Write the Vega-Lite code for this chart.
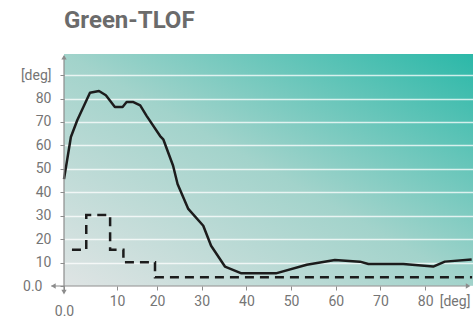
{
  "$schema": "https://vega.github.io/schema/vega-lite/v6.json",
  "width": 409,
  "height": 232,
  "autosize": {"type": "none"},
  "padding": {"left": 64, "top": 54, "right": 2, "bottom": 33},
  "background": "white",
  "title": {"text": "Green-TLOF", "anchor": "start", "frame": "group", "font": "Roboto", "fontSize": 24, "fontWeight": "bold", "color": "#6b6b6b", "offset": 21},
  "resolve": {"axis": {"x": "independent", "y": "independent"}, "scale": {"x": "shared", "y": "shared"}},
  "config": {
    "view": {
      "stroke": null,
      "fill": {"gradient": "linear", "x1": 0, "y1": 1, "x2": 1, "y2": 0, "stops": [
        {"offset": 0, "color": "#dfe4e4"},
        {"offset": 0.5, "color": "#a2d3cb"},
        {"offset": 1, "color": "#2bb8a8"}
      ]}
    },
    "axis": {
      "title": null, "domain": false,
      "tickColor": "#8c8c8c", "tickSize": 4, "tickWidth": 1,
      "labelFont": "Roboto", "labelFontSize": 14, "labelColor": "#757575",
      "labelFlush": false, "labelOverlap": false, "labelBound": false
    }
  },
  "datasets": {
    "solid": [
      {"x": 0, "y": 45.6}, {"x": 1.3, "y": 63.6}, {"x": 2.5, "y": 70.7}, {"x": 4.9, "y": 82.5},
      {"x": 6.6, "y": 83.2}, {"x": 7.9, "y": 81.4}, {"x": 9.6, "y": 76.4}, {"x": 11.4, "y": 76.4},
      {"x": 12.4, "y": 78.5}, {"x": 14.1, "y": 78.5}, {"x": 15.8, "y": 77.1}, {"x": 17.4, "y": 72.6},
      {"x": 20.7, "y": 64}, {"x": 21.4, "y": 62.6}, {"x": 23.6, "y": 51.3}, {"x": 24.6, "y": 43.5},
      {"x": 27, "y": 32.9}, {"x": 30.35, "y": 25.7}, {"x": 32.1, "y": 17.2}, {"x": 35.2, "y": 8.3},
      {"x": 38.9, "y": 5.4}, {"x": 46.6, "y": 5.4}, {"x": 53.5, "y": 9.1}, {"x": 59.8, "y": 11.1},
      {"x": 65.4, "y": 10.4}, {"x": 67.3, "y": 9.4}, {"x": 75.1, "y": 9.4}, {"x": 81.8, "y": 8.3},
      {"x": 84.4, "y": 10.4}, {"x": 90.4, "y": 11.3}
    ],
    "dashed": [
      {"x": 1.5, "y": 15.5}, {"x": 4.2, "y": 30.3}, {"x": 8.7, "y": 15.5},
      {"x": 11.6, "y": 10.1}, {"x": 19.5, "y": 3.7}, {"x": 90.5, "y": 3.7}
    ]
  },
  "layer": [
    {
      "data": {"name": "solid"},
      "mark": {"type": "line", "color": "#1c1c1c", "strokeWidth": 2.5, "strokeJoin": "round"},
      "encoding": {
        "x": {
          "field": "x", "type": "quantitative",
          "scale": {"type": "linear", "domain": [0, 10, 20, 90.7], "range": [0, 53, 93, 409], "nice": false, "zero": false},
          "axis": {
            "values": [0, 10, 20, 30, 40, 50, 60, 70, 80, 90],
            "labelExpr": "datum.value==0?'0.0':datum.value==90?'[deg]':datum.label",
            "grid": false,
            "tickOpacity": {"condition": {"test": "datum.value==90", "value": 0}, "value": 1},
            "labelAlign": {"condition": {"test": "datum.value==90", "value": "right"}, "value": "center"},
            "labelPadding": {"condition": {"test": "datum.value==0", "value": 14}, "value": 4}
          }
        },
        "y": {
          "field": "y", "type": "quantitative",
          "scale": {"domain": [0, 99], "nice": false, "zero": false},
          "axis": {
            "values": [0, 10, 20, 30, 40, 50, 60, 70, 80, 90],
            "labelExpr": "datum.value==0?'0.0':datum.value==90?'[deg]':datum.label",
            "grid": true, "gridColor": "#ffffff", "gridOpacity": 0.75, "gridWidth": 1.5,
            "labelPadding": {"condition": {"test": "datum.value==0", "value": 18}, "value": 9}
          }
        }
      }
    },
    {
      "data": {"name": "dashed"},
      "mark": {"type": "line", "color": "#1c1c1c", "strokeWidth": 2.5, "interpolate": "step-after", "strokeDash": [9, 6]},
      "encoding": {
        "x": {"field": "x", "type": "quantitative", "axis": null},
        "y": {"field": "y", "type": "quantitative", "axis": null}
      }
    },
    {
      "data": {"values": [{"k": 1}]},
      "mark": {"type": "rule", "color": "#8c8c8c", "strokeWidth": 1.2},
      "encoding": {
        "x": {"datum": -2.4, "axis": null},
        "x2": {"datum": 89.5},
        "y": {"datum": 0, "axis": null}
      }
    },
    {
      "data": {"values": [{"k": 1}]},
      "mark": {"type": "rule", "color": "#8c8c8c", "strokeWidth": 1.2},
      "encoding": {
        "x": {"datum": 0, "axis": null},
        "y": {"datum": -3, "axis": null},
        "y2": {"datum": 98}
      }
    },
    {
      "data": {"values": [{"k": 1}]},
      "mark": {"type": "point", "shape": "triangle-left", "filled": true, "color": "#8c8c8c", "size": 28, "opacity": 1},
      "encoding": {"x": {"datum": -2.0, "axis": null}, "y": {"datum": 0, "axis": null}}
    },
    {
      "data": {"values": [{"k": 1}]},
      "mark": {"type": "point", "shape": "triangle-right", "filled": true, "color": "#8c8c8c", "size": 28, "opacity": 1},
      "encoding": {"x": {"datum": 89.6, "axis": null}, "y": {"datum": 0, "axis": null}}
    },
    {
      "data": {"values": [{"k": 1}]},
      "mark": {"type": "point", "shape": "triangle-down", "filled": true, "color": "#8c8c8c", "size": 28, "opacity": 1},
      "encoding": {"x": {"datum": 0, "axis": null}, "y": {"datum": -2.6, "axis": null}}
    },
    {
      "data": {"values": [{"k": 1}]},
      "mark": {"type": "point", "shape": "triangle-up", "filled": true, "color": "#8c8c8c", "size": 28, "opacity": 1},
      "encoding": {"x": {"datum": 0, "axis": null}, "y": {"datum": 97.6, "axis": null}}
    }
  ]
}
